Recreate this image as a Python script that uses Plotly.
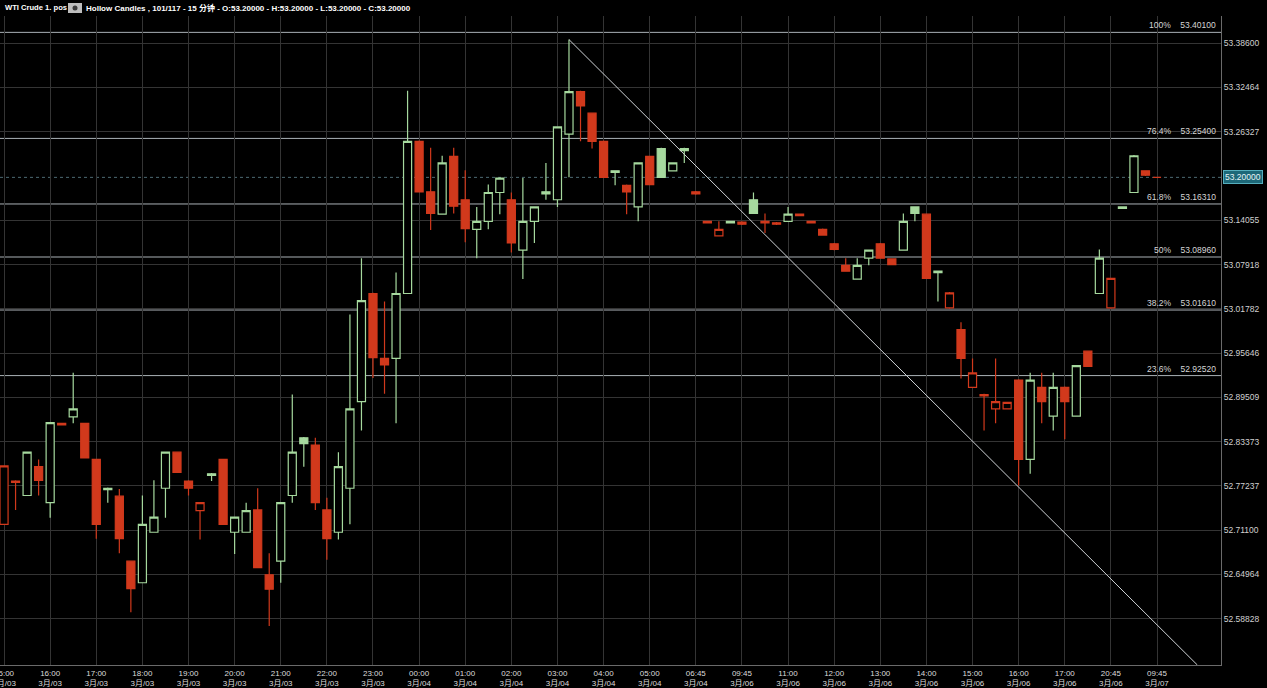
import plotly.graph_objects as go

# ---------------- data ----------------
opens = [52.719, 52.779, 52.759, 52.799, 52.749, 52.859, 52.868, 52.859, 52.809, 52.769,
         52.758, 52.668, 52.638, 52.708, 52.769, 52.819, 52.779, 52.738, 52.789, 52.809,
         52.708, 52.708, 52.739, 52.649, 52.668, 52.759, 52.839, 52.829, 52.739, 52.708,
         52.769, 52.889, 53.039, 52.949, 52.949, 53.039, 53.250, 53.180, 53.149, 53.229,
         53.169, 53.128, 53.139, 53.179, 53.169, 53.099, 53.139, 53.180, 53.169, 53.260,
         53.319, 53.289, 53.250, 53.209, 53.189, 53.159, 53.229, 53.240, 53.209, 53.240,
         53.180, 53.139, 53.119, 53.139, 53.138, 53.169, 53.139, 53.137, 53.139, 53.149,
         53.139, 53.128, 53.108, 53.078, 53.059, 53.088, 53.108, 53.087, 53.099, 53.159,
         53.149, 53.070, 53.019, 52.989, 52.909, 52.899, 52.879, 52.879, 52.919, 52.809,
         52.909, 52.869, 52.909, 52.869, 52.959, 53.039, 53.019, 53.159, 53.179, 53.209,
         53.200]
highs = [52.800, 52.780, 52.820, 52.809, 52.861, 52.860, 52.929, 52.860, 52.810, 52.770,
         52.768, 52.669, 52.759, 52.780, 52.820, 52.820, 52.780, 52.750, 52.790, 52.810,
         52.730, 52.749, 52.769, 52.679, 52.750, 52.899, 52.840, 52.839, 52.756, 52.819,
         53.010, 53.088, 53.040, 53.028, 53.068, 53.320, 53.251, 53.241, 53.230, 53.241,
         53.210, 53.159, 53.190, 53.200, 53.179, 53.199, 53.160, 53.220, 53.271, 53.391,
         53.320, 53.290, 53.251, 53.210, 53.190, 53.221, 53.230, 53.241, 53.221, 53.241,
         53.181, 53.140, 53.139, 53.140, 53.139, 53.179, 53.150, 53.138, 53.159, 53.150,
         53.140, 53.129, 53.109, 53.088, 53.088, 53.100, 53.109, 53.088, 53.150, 53.160,
         53.150, 53.071, 53.041, 52.999, 52.949, 52.900, 52.949, 52.889, 52.920, 52.929,
         52.929, 52.929, 52.910, 52.940, 52.960, 53.100, 53.061, 53.160, 53.231, 53.210,
         53.200]
lows = [52.719, 52.739, 52.759, 52.759, 52.728, 52.856, 52.859, 52.811, 52.699, 52.749,
        52.679, 52.597, 52.638, 52.708, 52.728, 52.790, 52.759, 52.698, 52.779, 52.719,
        52.678, 52.708, 52.659, 52.578, 52.638, 52.749, 52.799, 52.739, 52.670, 52.698,
        52.719, 52.849, 52.922, 52.900, 52.859, 53.039, 53.179, 53.127, 53.149, 53.150,
        53.110, 53.088, 53.128, 53.149, 53.096, 53.059, 53.109, 53.169, 53.159, 53.200,
        53.250, 53.240, 53.199, 53.189, 53.149, 53.139, 53.189, 53.200, 53.209, 53.220,
        53.176, 53.136, 53.118, 53.136, 53.134, 53.150, 53.123, 53.134, 53.139, 53.146,
        53.136, 53.119, 53.099, 53.069, 53.059, 53.078, 53.088, 53.079, 53.099, 53.139,
        53.060, 53.028, 53.018, 52.921, 52.909, 52.849, 52.859, 52.879, 52.773, 52.789,
        52.859, 52.849, 52.837, 52.869, 52.938, 53.039, 53.018, 53.156, 53.179, 53.202,
        53.200]
closes = [52.800, 52.777, 52.819, 52.780, 52.860, 52.857, 52.879, 52.811, 52.719, 52.767,
          52.699, 52.630, 52.719, 52.729, 52.819, 52.791, 52.769, 52.749, 52.787, 52.719,
          52.729, 52.738, 52.659, 52.629, 52.749, 52.819, 52.831, 52.749, 52.699, 52.799,
          52.879, 53.029, 52.950, 52.940, 53.039, 53.250, 53.180, 53.150, 53.220, 53.160,
          53.129, 53.139, 53.179, 53.199, 53.109, 53.139, 53.159, 53.177, 53.270, 53.319,
          53.299, 53.250, 53.200, 53.207, 53.180, 53.220, 53.190, 53.200, 53.220, 53.237,
          53.177, 53.137, 53.128, 53.137, 53.135, 53.150, 53.137, 53.135, 53.149, 53.147,
          53.137, 53.120, 53.100, 53.070, 53.078, 53.099, 53.088, 53.079, 53.139, 53.150,
          53.060, 53.068, 53.040, 52.949, 52.929, 52.897, 52.889, 52.888, 52.809, 52.919,
          52.889, 52.909, 52.889, 52.939, 52.938, 53.088, 53.060, 53.157, 53.230, 53.203,
          53.200]
close_before_first = 52.840  # close of the (hidden) bar before the first one

xtick_idx = list(range(0, 101, 4))
xtick_time = ["15:00", "16:00", "17:00", "18:00", "19:00", "20:00", "21:00", "22:00", "23:00",
              "00:00", "01:00", "02:00", "03:00", "04:00", "05:00", "06:45", "09:45", "11:00",
              "12:00", "13:00", "14:00", "15:00", "16:00", "17:00", "20:45", "09:45"]
xtick_date = ["3月/03"] * 9 + ["3月/04"] * 7 + ["3月/06"] * 9 + ["3月/07"]

ytick_vals = [53.38600, 53.32464, 53.26327, 53.14055, 53.07918, 53.01782, 52.95646,
              52.89509, 52.83373, 52.77237, 52.71100, 52.64964, 52.58828]
last_price = 53.20000

fib_pct = ["100%", "76.4%", "61.8%", "50%", "38.2%", "23.6%"]
fib_val = [53.40100, 53.25400, 53.16310, 53.08960, 53.01610, 52.92520]

trend_x = [49, 103.5]
trend_y = [53.391, 52.524]

title_left = "WTI Crude 1. pos"
title_right = "Hollow Candles , 101/117 - 15 分钟 - O:53.20000 - H:53.20000 - L:53.20000 - C:53.20000"

# ---------------- styling ----------------
GREEN = "#a6d99e"
RED = "#d1391c"
BG = "#000000"
GRID = "#343434"
FIBC = "#aab1b6"
FONT = "Liberation Sans, Arial, Noto Sans CJK SC, sans-serif"

W, H = 1267, 688
ML, MR, MT, MB = 0, 46, 16, 23
PW = W - ML - MR
PH = H - MT - MB

# split bars by colour (close vs previous close)
prev = [close_before_first] + closes[:-1]
g_idx = [i for i in range(len(closes)) if closes[i] > prev[i]]
r_idx = [i for i in range(len(closes)) if closes[i] <= prev[i]]

def pick(arr, idx):
    return [arr[i] for i in idx]

fig = go.Figure()
for idx, col in ((g_idx, GREEN), (r_idx, RED)):
    fig.add_trace(go.Candlestick(
        x=idx, open=pick(opens, idx), high=pick(highs, idx),
        low=pick(lows, idx), close=pick(closes, idx),
        increasing=dict(line=dict(color=col, width=1.2), fillcolor=BG),
        decreasing=dict(line=dict(color=col, width=1.2), fillcolor=col),
        hoverinfo="skip", showlegend=False,
    ))

shapes = []
for v in fib_val:
    shapes.append(dict(type="line", xref="paper", yref="y", x0=0, x1=1, y0=v, y1=v,
                       line=dict(color=FIBC, width=1), layer="below"))
shapes.append(dict(type="line", xref="paper", yref="y", x0=0, x1=1, y0=last_price, y1=last_price,
                   line=dict(color="#4d6a72", width=1, dash="dot"), layer="below"))
shapes.append(dict(type="line", xref="x", yref="y", x0=trend_x[0], x1=trend_x[1],
                   y0=trend_y[0], y1=trend_y[1], line=dict(color="#cfd3d6", width=1)))

def px_x(p):
    return (p - ML) / PW
def px_y(p):
    return 1 + (MT - p) / PH

# eye icon in the header
shapes.append(dict(type="rect", xref="paper", yref="paper", x0=px_x(68), x1=px_x(82),
                   y0=px_y(13), y1=px_y(3), fillcolor="#bdbdbd", line=dict(width=0)))
shapes.append(dict(type="circle", xref="paper", yref="paper", x0=px_x(72.5), x1=px_x(77.5),
                   y0=px_y(10.5), y1=px_y(5.5), fillcolor="#3a3a3a", line=dict(width=0)))

annotations = []
for p, v in zip(fib_pct, fib_val):
    annotations.append(dict(xref="paper", yref="y", x=1, y=v, xanchor="right", yanchor="bottom",
                            text=f"{p}&nbsp;&nbsp;&nbsp;&nbsp;{v:.5f}", showarrow=False,
                            font=dict(family=FONT, size=8.5, color="#d6d6d6"), xshift=-3, yshift=0))
annotations.append(dict(xref="paper", yref="y", x=1, y=last_price, xanchor="left", yanchor="middle",
                        text=f"{last_price:.5f}", showarrow=False, xshift=2,
                        font=dict(family=FONT, size=8.5, color="#e6f4f6"),
                        bgcolor="#1d6878", bordercolor="#55aebd", borderwidth=1, borderpad=1))
annotations.append(dict(xref="paper", yref="paper", x=px_x(3), y=px_y(8), xanchor="left", yanchor="middle",
                        text=f"<b>{title_left}</b>", showarrow=False,
                        font=dict(family=FONT, size=7.6, color="#ffffff")))
annotations.append(dict(xref="paper", yref="paper", x=px_x(84), y=px_y(8), xanchor="left", yanchor="middle",
                        text=f"<b>{title_right}</b>", showarrow=False,
                        font=dict(family=FONT, size=8.0, color="#ffffff")))

fig.update_layout(
    template="none",
    width=W, height=H, autosize=False,
    margin=dict(l=ML, r=MR, t=MT, b=MB, pad=0, autoexpand=False),
    paper_bgcolor=BG, plot_bgcolor=BG,
    boxgap=0.3, boxgroupgap=0.0,
    shapes=shapes, annotations=annotations,
    showlegend=False,
    xaxis=dict(
        range=[-0.35, 105.55], rangeslider=dict(visible=False), automargin=False,
        tickmode="array", tickvals=xtick_idx,
        ticktext=[f"{t}<br>{d}" for t, d in zip(xtick_time, xtick_date)],
        tickfont=dict(family=FONT, size=8, color="#dcdcdc"),
        ticklabeloverflow="allow",
        showgrid=True, gridcolor=GRID, gridwidth=1, zeroline=False,
        showline=True, linecolor="#6a6a6a", linewidth=1, ticks="",
        fixedrange=True,
    ),
    yaxis=dict(
        side="right", range=[52.524, 53.4237], automargin=False,
        tickmode="array", tickvals=ytick_vals, ticktext=[f"{v:.5f}" for v in ytick_vals],
        tickfont=dict(family=FONT, size=8.5, color="#d0d0d0"),
        showgrid=True, gridcolor=GRID, gridwidth=1, zeroline=False,
        showline=True, linecolor="#6a6a6a", linewidth=1, ticks="",
        fixedrange=True,
    ),
)

fig.write_html(
    "out.html",
    config={"displayModeBar": False},
    post_script="document.body.style.margin='0';document.body.style.background='#000';",
)
